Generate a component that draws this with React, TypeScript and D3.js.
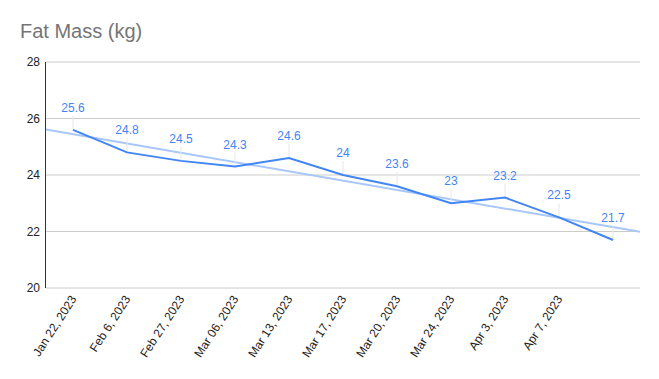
import React from "react";
import * as d3 from "d3";

const categories = [
  "Jan 22, 2023", "Feb 6, 2023", "Feb 27, 2023", "Mar 06, 2023", "Mar 13, 2023",
  "Mar 17, 2023", "Mar 20, 2023", "Mar 24, 2023", "Apr 3, 2023", "Apr 7, 2023", "",
];
const values = [25.6, 24.8, 24.5, 24.3, 24.6, 24, 23.6, 23, 23.2, 22.5, 21.7];
const yTicks = [20, 22, 24, 26, 28];
const title = "Fat Mass (kg)";

const W = 659, H = 379;
const M = { left: 46, right: 640, top: 62, bottom: 288 };
const FONT = "'Liberation Sans', Arial, sans-serif";

export default function App() {
  const x = d3.scaleBand<number>().domain(d3.range(categories.length)).range([M.left, M.right]);
  const cx = (i: number) => (x(i) as number) + x.bandwidth() / 2;
  const y = d3.scaleLinear().domain([20, 28]).range([M.bottom, M.top]);

  const n = values.length;
  const mx = d3.mean(d3.range(n)) as number;
  const my = d3.mean(values) as number;
  let sxy = 0, sxx = 0;
  values.forEach((v, i) => { sxy += (i - mx) * (v - my); sxx += (i - mx) ** 2; });
  const slope = sxy / sxx;
  const trend = (t: number) => my + slope * (t - mx);
  const xi = d3.scaleLinear().domain([-0.5, n - 0.5]).range([M.left, M.right]);

  const line = d3.line<number>().x((_, i) => cx(i)).y((d) => y(d));

  return (
    <svg width={W} height={H} style={{ position: "absolute", left: 0, top: 0, background: "#fff" }}>
      <rect width={W} height={H} fill="#fff" />
      <text x={20} y={38} fontFamily={FONT} fontSize={20} fill="#757575">{title}</text>
      {yTicks.map((t) => (
        <g key={t}>
          <line x1={M.left} x2={M.right} y1={y(t)} y2={y(t)} stroke="#cccccc" strokeWidth={1} />
          <text x={40} y={y(t)} dy="0.35em" textAnchor="end" fontFamily={FONT} fontSize={12} fill="#222">{t}</text>
        </g>
      ))}
      <line x1={M.left - 0.5} x2={M.left - 0.5} y1={M.top} y2={M.bottom} stroke="#333" strokeWidth={1} />
      <line
        x1={xi(-0.5)} x2={xi(n - 0.5)} y1={y(trend(-0.5))} y2={y(trend(n - 0.5))}
        stroke="#a8c7fa" strokeWidth={2}
      />
      {values.map((v, i) => (
        <line key={"l" + i} x1={cx(i)} x2={cx(i)} y1={y(v)} y2={y(v) - 14} stroke="#e6e6e6" strokeWidth={1} />
      ))}
      <path d={line(values) || ""} fill="none" stroke="#4285f4" strokeWidth={2} />
      {values.map((v, i) => (
        <text key={"t" + i} x={cx(i)} y={y(v) - 18} textAnchor="middle" fontFamily={FONT} fontSize={12} fill="#4285f4">{v}</text>
      ))}
      {categories.map((c, i) => (
        <text
          key={"c" + i}
          transform={`translate(${cx(i) + 4},${M.bottom + 11}) rotate(-57)`}
          textAnchor="end"
          fontFamily={FONT}
          fontSize={12}
          fill="#222"
        >{c}</text>
      ))}
    </svg>
  );
}
